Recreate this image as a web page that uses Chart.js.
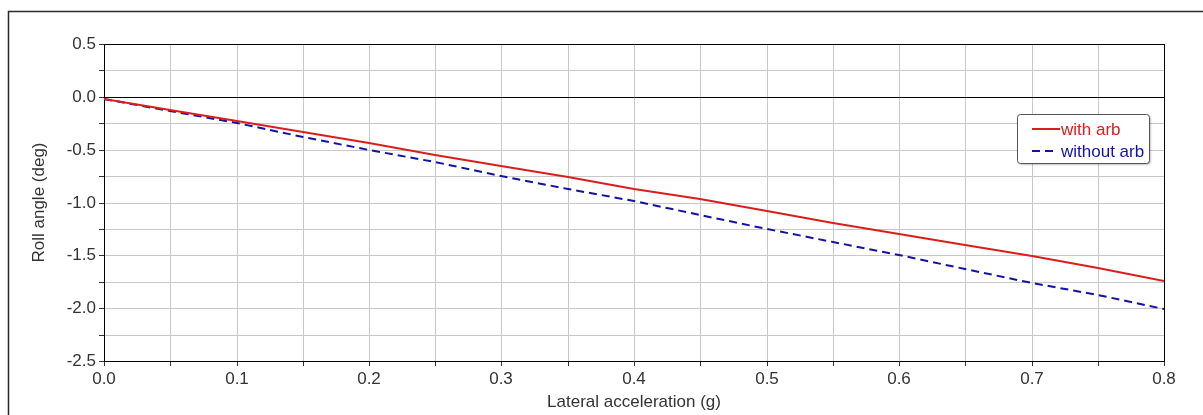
<!DOCTYPE html>
<html>
<head>
<meta charset="utf-8">
<script src="https://cdn.jsdelivr.net/npm/chart.js@4"></script>
<style>
  html, body { margin: 0; padding: 0; background: #fff; }
  #wrap { width: 1203px; height: 415px; position: relative; }
</style>
</head>
<body>
<div id="wrap"><canvas id="rollChart" width="1203" height="415"></canvas></div>
<script>
// lateral acceleration (g)
var accel = [0, 0.05, 0.1, 0.15, 0.2, 0.25, 0.3, 0.35, 0.4, 0.45, 0.5, 0.55, 0.6, 0.65, 0.7, 0.75, 0.8];
// roll angle (deg)
var withArb = [-0.02, -0.12, -0.23, -0.33, -0.44, -0.55, -0.65, -0.76, -0.87, -0.97, -1.08, -1.19, -1.30, -1.40, -1.51, -1.62, -1.74];
var withoutArb = [-0.02, -0.13, -0.25, -0.38, -0.50, -0.62, -0.75, -0.87, -0.99, -1.12, -1.25, -1.37, -1.50, -1.63, -1.76, -1.88, -2.01];
var seriesNames = ['with arb', 'without arb'];

var RED = 'rgb(218, 30, 30)';
var BLUE = 'rgb(18, 18, 165)';
var GRID = '#c8c8c8';
var FONT = 'Liberation Sans, Arial, sans-serif';

function toPoints(ys) {
    return accel.map(function(x, i) { return { x: x, y: ys[i] }; });
}

// outer frame (top and left edges)
var framePlugin = {
    id: 'frame',
    beforeDraw: function(chart) {
        var c = chart.ctx;
        c.save();
        c.strokeStyle = '#2a2a2a';
        c.lineWidth = 1.5;
        c.beginPath();
        c.moveTo(8.5, 415);
        c.lineTo(8.5, 11.5);
        c.lineTo(1203, 11.5);
        c.stroke();
        c.restore();
    }
};

// boxed legend inside the plot
var legendBox = {
    id: 'legendBox',
    afterDraw: function(chart) {
        var c = chart.ctx;
        var x = 1017, y = 114, w = 132, h = 49, r = 3;
        c.save();
        c.shadowColor = 'rgba(0,0,0,0.35)';
        c.shadowOffsetX = 1;
        c.shadowOffsetY = 1;
        c.shadowBlur = 2;
        c.beginPath();
        c.roundRect(x + 0.5, y + 0.5, w, h, r);
        c.fillStyle = '#fff';
        c.fill();
        c.shadowColor = 'transparent';
        c.strokeStyle = '#555';
        c.lineWidth = 1;
        c.stroke();

        c.font = '17px ' + FONT;
        c.textBaseline = 'middle';
        c.textAlign = 'left';
        chart.data.datasets.forEach(function(ds, i) {
            var ly = y + 15 + i * 22;
            var len = ds.borderDash ? 21 : 28;
            c.strokeStyle = ds.borderColor;
            c.lineWidth = 2;
            c.setLineDash(ds.borderDash || []);
            c.beginPath();
            c.moveTo(x + 15, ly);
            c.lineTo(x + 15 + len, ly);
            c.stroke();
            c.setLineDash([]);
            c.fillStyle = ds.borderColor;
            c.fillText(ds.label, x + 44, ly + 1);
        });
        c.restore();
    }
};

var ctx = document.getElementById('rollChart');
var myChart = new Chart(ctx.getContext('2d'), {
    type: 'line',
    data: {
        datasets: [{
            label: seriesNames[0],
            data: toPoints(withArb),
            borderColor: RED,
            borderWidth: 2,
            pointRadius: 0,
            fill: false,
            tension: 0
        }, {
            label: seriesNames[1],
            data: toPoints(withoutArb),
            borderColor: BLUE,
            borderWidth: 2,
            borderDash: [8, 5],
            pointRadius: 0,
            fill: false,
            tension: 0
        }]
    },
    options: {
        responsive: false,
        animation: false,
        devicePixelRatio: 1,
        layout: {
            padding: { left: 25, top: 44, right: 39, bottom: 0 }
        },
        scales: {
            x: {
                type: 'linear',
                min: 0,
                max: 0.8,
                alignToPixels: true,
                afterFit: function(scale) { scale.height = 54; },
                ticks: {
                    stepSize: 0.05,
                    autoSkip: false,
                    maxRotation: 0,
                    padding: 3,
                    color: '#333',
                    font: { family: FONT, size: 17 },
                    callback: function(v) {
                        return Math.round(v * 100) % 10 === 0 ? v.toFixed(1) : '';
                    }
                },
                grid: {
                    tickLength: 5,
                    tickColor: '#333',
                    color: function(c) {
                        return Math.abs(c.tick.value - 0.8) < 1e-6 ? '#000' : GRID;
                    }
                },
                border: { display: true, color: '#000', width: 1 },
                title: {
                    display: true,
                    text: 'Lateral acceleration (g)',
                    color: '#333',
                    padding: { top: 2, bottom: 2 },
                    font: { family: FONT, size: 17 }
                }
            },
            y: {
                min: -2.5,
                max: 0.5,
                alignToPixels: true,
                afterFit: function(scale) { scale.width = 79; },
                ticks: {
                    stepSize: 0.25,
                    autoSkip: false,
                    padding: 3,
                    color: '#333',
                    font: { family: FONT, size: 17 },
                    callback: function(v) {
                        if (Math.round(v * 100) % 50 !== 0) return '';
                        return Math.abs(v) < 1e-9 ? '0.0' : v.toFixed(1);
                    }
                },
                grid: {
                    tickLength: 5,
                    tickColor: '#333',
                    color: function(c) {
                        var v = c.tick.value;
                        return (Math.abs(v) < 1e-9 || Math.abs(v - 0.5) < 1e-9) ? '#000' : GRID;
                    }
                },
                border: { display: true, color: '#000', width: 1 },
                title: {
                    display: true,
                    text: 'Roll angle (deg)',
                    color: '#333',
                    padding: { top: 4, bottom: 4 },
                    font: { family: FONT, size: 17 }
                }
            }
        },
        plugins: {
            legend: { display: false },
            tooltip: { enabled: false }
        }
    },
    plugins: [framePlugin, legendBox]
});
</script>
</body>
</html>
